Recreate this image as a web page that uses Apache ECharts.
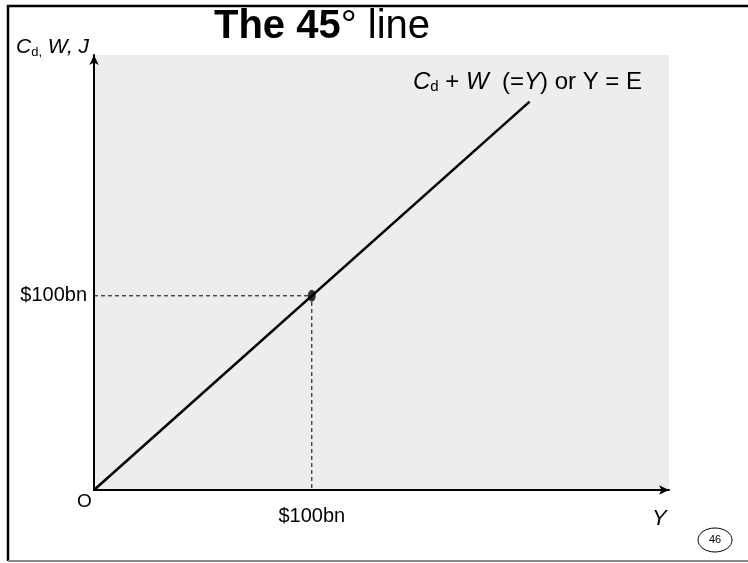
<!DOCTYPE html>
<html lang="en">
<head>
    <meta charset="UTF-8">
    <title>The 45 degree line</title>
    <script src="https://cdn.jsdelivr.net/npm/echarts@6/dist/echarts.min.js"></script>
</head>
<body style="margin: 0">
<div id="main" style="width: 748px;height:563px;"></div>
<script>
    // 45 degree line: C_d + W = Y
    const lineData = [[0, 0], [200, 200]];
    const pointData = [[100, 100]];
    const guideData = [[0, 100], [100, 100], [100, 0]];
    const tickLabels = {100: '$100bn'};

    const font = 'Liberation Sans, Arial, sans-serif';
    const myChart = echarts.init(document.getElementById('main'));

    const axisCommon = {
        type: 'value',
        min: 0,
        interval: 100,
        axisLine: {
            show: true,
            symbol: ['none', 'arrow'],
            symbolSize: [7, 10],
            lineStyle: {color: '#000', width: 2}
        },
        axisTick: {show: false},
        splitLine: {show: false},
        axisLabel: {
            color: '#000',
            fontSize: 20,
            fontFamily: font,
            formatter: function (v) {
                return tickLabels[v] || '';
            }
        }
    };

    option = {
        animation: false,
        title: {
            text: '{b|The 45}{n|° line}',
            left: 209,
            top: 2,
            textStyle: {
                fontWeight: 'normal',
                rich: {
                    b: {fontSize: 40, fontWeight: 'bold', fontFamily: font, color: '#000'},
                    n: {fontSize: 40, fontWeight: 'normal', fontFamily: font, color: '#000'}
                }
            }
        },
        grid: {
            left: 94,
            right: 79,
            top: 55,
            bottom: 73,
            show: true,
            backgroundColor: '#ededed',
            borderWidth: 0
        },
        xAxis: Object.assign({}, axisCommon, {
            max: 264,
            axisLabel: Object.assign({}, axisCommon.axisLabel, {margin: 16})
        }),
        yAxis: Object.assign({}, axisCommon, {
            max: 224,
            axisLabel: Object.assign({}, axisCommon.axisLabel, {margin: 7})
        }),
        series: [{
            type: 'line',
            data: guideData,
            showSymbol: false,
            lineStyle: {color: '#000', width: 1, type: [4, 3]},
            z: 2
        }, {
            type: 'line',
            data: lineData,
            showSymbol: false,
            lineStyle: {color: '#000', width: 2.5},
            z: 3
        }, {
            type: 'scatter',
            data: pointData,
            symbol: 'circle',
            symbolSize: [8, 12],
            itemStyle: {color: '#000'},
            z: 4
        }],
        graphic: [
            {type: 'line', shape: {x1: 8, y1: 5, x2: 8, y2: 561}, style: {stroke: '#000', lineWidth: 2.5}},
            {type: 'line', shape: {x1: 7, y1: 6, x2: 748, y2: 6}, style: {stroke: '#000', lineWidth: 2.5}},
            {type: 'line', shape: {x1: 8, y1: 561, x2: 748, y2: 561}, style: {stroke: '#888', lineWidth: 2}},
            {
                type: 'text', left: 16, top: 37,
                style: {
                    text: '{i|C}{s|d,}{i| W, J}',
                    rich: {
                        i: {fontSize: 21, fontStyle: 'italic', fontFamily: font, fill: '#000'},
                        s: {fontSize: 13, fontFamily: font, fill: '#000', padding: [9, 0, 0, 0]}
                    }
                }
            },
            {
                type: 'text', left: 413, top: 70,
                style: {
                    text: '{i|C}{s|d}{n| + }{i|W}{n|  (=}{i|Y}{n|) or Y = E}',
                    rich: {
                        i: {fontSize: 24, fontStyle: 'italic', fontFamily: font, fill: '#000'},
                        n: {fontSize: 24, fontFamily: font, fill: '#000'},
                        s: {fontSize: 15, fontFamily: font, fill: '#000', padding: [10, 0, 0, 0]}
                    }
                }
            },
            {type: 'text', left: 77, top: 492, style: {text: 'O', fontSize: 19, fontFamily: font, fill: '#000'}},
            {type: 'text', left: 652, top: 508, style: {text: 'Y', fontSize: 22, fontStyle: 'italic', fontFamily: font, fill: '#000'}},
            {type: 'ellipse', shape: {cx: 715, cy: 540, rx: 17, ry: 12}, style: {fill: '#fff', stroke: '#000', lineWidth: 1}},
            {type: 'text', x: 715, y: 540, style: {text: '46', fontSize: 11, fontFamily: font, fill: '#000', align: 'center', verticalAlign: 'middle'}}
        ]
    };
    myChart.setOption(option);
</script>
</body>
</html>
